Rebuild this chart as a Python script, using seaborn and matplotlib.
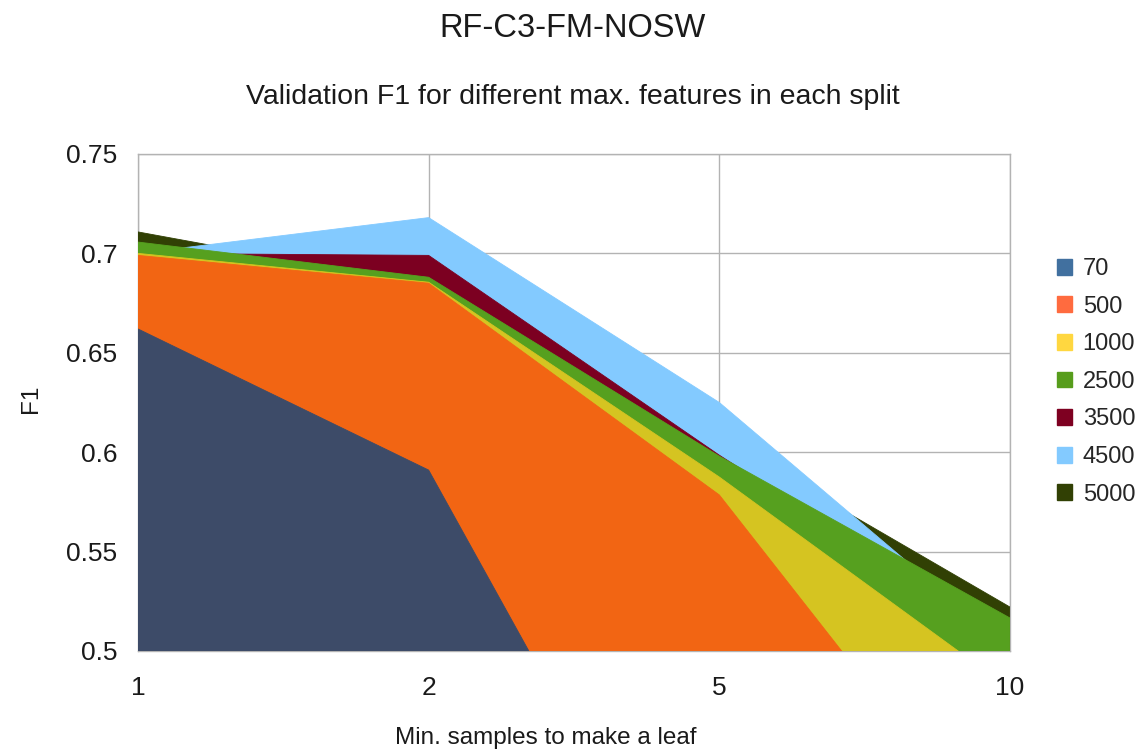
import matplotlib
matplotlib.use("Agg")
import matplotlib.pyplot as plt
import matplotlib.patches as mpatches
import numpy as np
import pandas as pd
import seaborn as sns

# Dữ liệu (F1 validation)
min_leaf = ["1", "2", "5", "10"]
series_names = ["70", "500", "1000", "2500", "3500", "4500", "5000"]
f1_70 = [0.662, 0.591, 0.327, 0.310]
f1_500 = [0.699, 0.685, 0.5785, 0.392]
f1_1000 = [0.700, 0.6855, 0.5875, 0.481]
f1_2500 = [0.7057, 0.688, 0.598, 0.5166]
f1_3500 = [0.700, 0.699, 0.5985, 0.505]
f1_4500 = [0.700, 0.718, 0.625, 0.501]
f1_5000 = [0.7108, 0.684, 0.607, 0.5221]
all_f1 = [f1_70, f1_500, f1_1000, f1_2500, f1_3500, f1_4500, f1_5000]

area_colors = ["#3d4b68", "#f26513", "#d5c421", "#56a01f", "#7c0021", "#83caff", "#314004"]
legend_colors = ["#41709f", "#ff6b3f", "#ffd740", "#579d1c", "#7e0021", "#83caff", "#314004"]

sns.set_theme(style="white")
plt.rcParams["font.family"] = ["Liberation Sans", "DejaVu Sans"]

fig = plt.figure(figsize=(11.46, 7.53), dpi=100)
ax = fig.add_axes([0.1204, 0.1355, 0.7609, 0.66])

xpos = np.arange(len(min_leaf))
# vẽ ngược: series cuối nằm sau cùng
for i in reversed(range(len(series_names))):
    z = 10 + (len(series_names) - i)
    df = pd.DataFrame({"x": xpos, "F1": all_f1[i]})
    ax.fill_between(df.x, 0, df.F1, color=area_colors[i], linewidth=0, zorder=z)
    sns.lineplot(data=df, x="x", y="F1", ax=ax, color=area_colors[i],
                 linewidth=0.6, zorder=z)

ax.set_xlim(0, 3)
ax.set_ylim(0.5, 0.75)
ax.set_xticks(xpos)
ax.set_xticklabels(min_leaf)
ax.set_yticks([0.5, 0.55, 0.6, 0.65, 0.7, 0.75])
ax.set_yticklabels(["0.5", "0.55", "0.6", "0.65", "0.7", "0.75"])
ax.grid(True, color="#b3b3b3", linewidth=1.0, zorder=0)
ax.set_axisbelow(True)
for s in ax.spines.values():
    s.set_color("#b3b3b3")
    s.set_linewidth(1.0)
ax.tick_params(axis="both", length=7, width=1.0, color="#b3b3b3",
               labelsize=19, labelcolor="#1a1a1a", pad=8)
ax.tick_params(axis="x", pad=11)
ax.set_xlabel("")
ax.set_ylabel("")

fig.text(0.5, 0.962, "RF-C3-FM-NOSW", ha="center", va="center", fontsize=23.5, color="#1a1a1a")
fig.text(0.5, 0.871, "Validation F1 for different max. features in each split",
         ha="center", va="center", fontsize=20.5, color="#1a1a1a")
fig.text(0.476, 0.02, "Min. samples to make a leaf", ha="center", va="center",
         fontsize=17.5, color="#1a1a1a")
fig.text(0.027, 0.47, "F1", ha="center", va="center", rotation=90,
         fontsize=17.5, color="#1a1a1a")

handles = [mpatches.Patch(color=c, label=n) for c, n in zip(legend_colors, series_names)]
fig.legend(handles=handles, loc="center left", bbox_to_anchor=(0.918, 0.493),
           frameon=False, fontsize=17, handlelength=0.65, handleheight=0.65,
           handletextpad=0.45, labelspacing=0.66, borderaxespad=0, borderpad=0.2)

fig.savefig("out.png", dpi=100)
